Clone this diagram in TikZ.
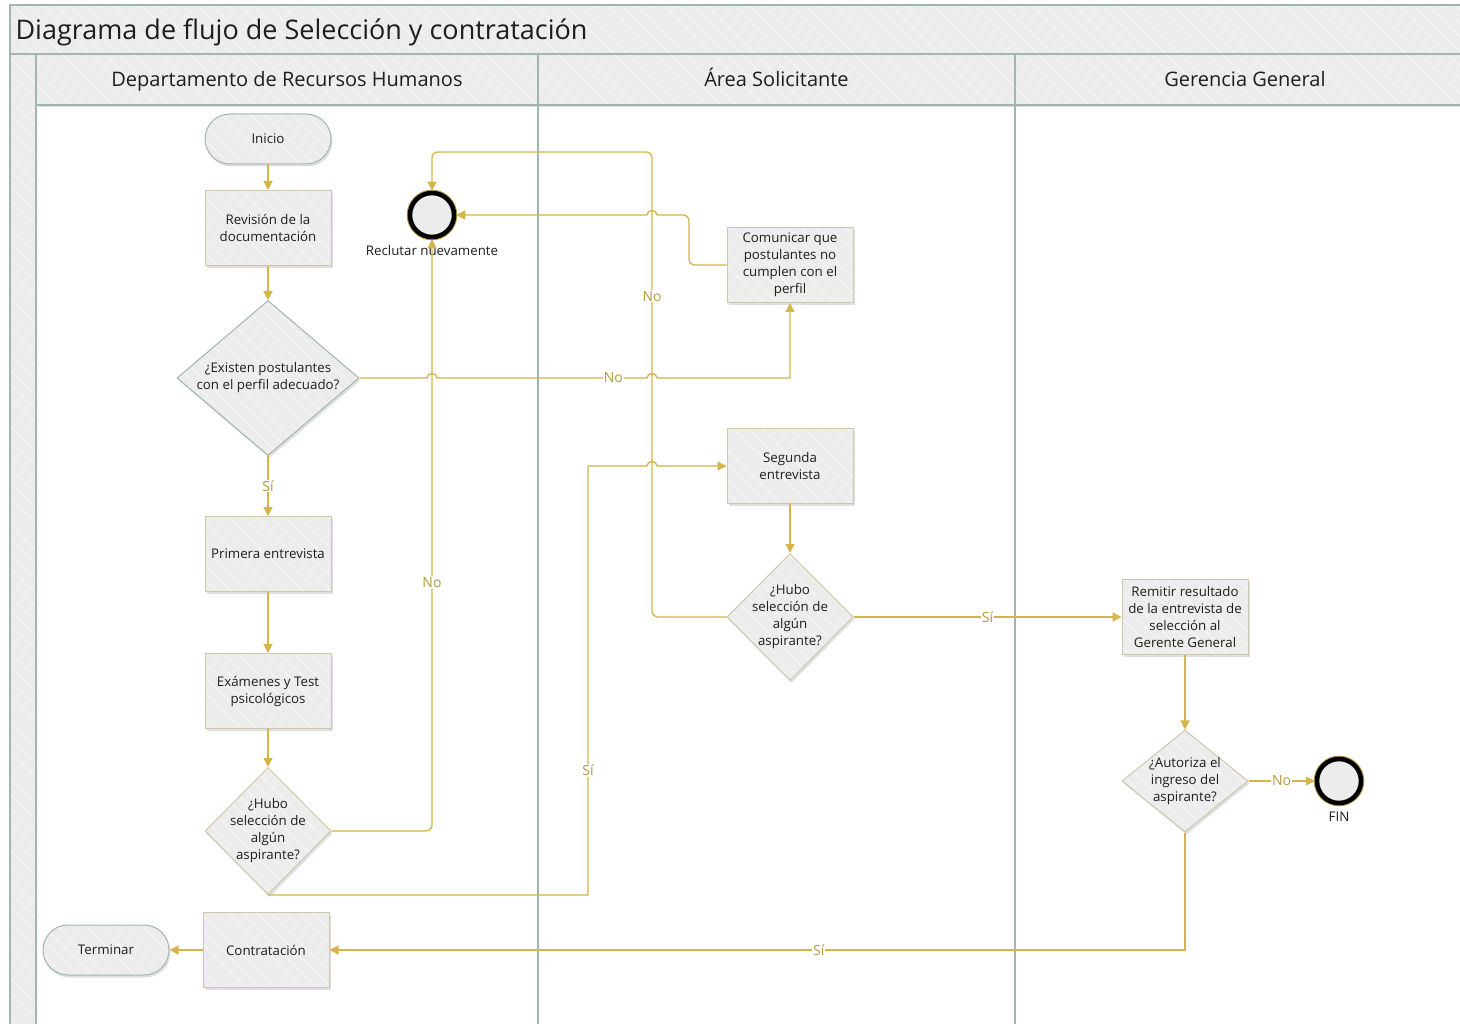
\documentclass[tikz,border=0pt]{standalone}
\usepackage{fontspec}
\setmainfont{Open Sans}
\usetikzlibrary{positioning,shapes.geometric,arrows.meta,shadows,patterns.meta}

\definecolor{lanegray}{HTML}{ECECEC}
\definecolor{laneline}{HTML}{A3B6AE}
\definecolor{boxline}{HTML}{CFC7AC}
\definecolor{flowgold}{HTML}{D4B54A}
\definecolor{labelgold}{HTML}{B39A3E}
\definecolor{ink}{HTML}{1E1E1E}

\begin{document}
\begin{tikzpicture}[x=1pt, y=-1pt,
  >={Triangle[length=9pt,width=9pt]},
  hatch/.style={preaction={fill=lanegray},
    preaction={pattern={Lines[angle=-45,distance=10pt,line width=1pt]},
      pattern color=white!55!lanegray}},
  shade box/.style={drop shadow={shadow xshift=1.5pt, shadow yshift=-2.5pt,
      opacity=0.25, fill=black!50}},
  lanebox/.style={draw=laneline, line width=1.2pt, hatch},
  proc/.style={rectangle, shade box, hatch, draw=boxline, line width=1pt,
    minimum width=126pt, minimum height=75pt, inner sep=2pt, align=center, text=ink,
    font=\fontsize{13.3}{17}\selectfont},
  termbox/.style={proc, draw=laneline, rounded corners=25pt, minimum height=50pt},
  decis/.style={proc, diamond, inner sep=-16pt},
  endc/.style={circle, draw=black, line width=4.5pt, fill=lanegray,
    minimum size=44pt, inner sep=0pt, preaction={draw=flowgold!80!black, line width=6.5pt}},
  endtxt/.style={text=ink, font=\fontsize{13.3}{17}\selectfont},
  flow/.style={draw=flowgold, line width=1.3pt, ->},
  lbl/.style={fill=white, text=labelgold, inner sep=1pt, font=\fontsize{14}{16}\selectfont}]

  \path[use as bounding box, clip] (0,0) rectangle (1460,1024);
  \fill[white] (0,0) rectangle (1460,1024);

  % pool and lanes
  \draw[lanebox] (10,5) rectangle (1475,54);
  \node[anchor=base west, text=ink, font=\fontsize{27}{32}\selectfont] (title) at (12,40)
    {Diagrama de flujo de Selección y contratación};
  \draw[lanebox] (10,54) rectangle (36,1030);
  \foreach \xa/\xb/\txt [count=\i] in {36/538/Departamento de Recursos Humanos,
      538/1015/Área Solicitante, 1015/1475/Gerencia General}
  {
    \draw[draw=laneline, line width=1.5pt] (\xa,105) -- (\xa,1030);
    \draw[shade box, lanebox] (\xa,54) rectangle (\xb,105);
    \node[anchor=base, text=ink, font=\fontsize{20}{24}\selectfont] (lane\i)
      at ({(\xa+\xb)/2},87) {\txt};
  }

  % recursos humanos
  \node[termbox] (inicio) at (268,139) {Inicio};
  \node[proc] (revis) at (268,228) {Revisión de la\\documentación};
  \node[decis, draw=laneline, minimum width=182pt, minimum height=155pt] (exist) at (268,378)
    {¿Existen postulantes\\con el perfil adecuado?};
  \node[proc] (prim) at (268,554) {Primera entrevista};
  \node[proc] (exam) at (268,691) {Exámenes y Test\\psicológicos};
  \node[decis, minimum width=126pt, minimum height=127pt] (hubo1) at (268,831)
    {¿Hubo\\selección de\\algún\\aspirante?};
  \node[proc] (contr) at (266,950) {Contratación};
  \node[termbox] (termin) at (106,950) {Terminar};
  \node[endc] (recl) at (432,215) {};
  \node[endtxt, below=3pt of recl] (reclt) {Reclutar nuevamente};

  % area solicitante
  \node[proc] (comun) at (790,265) {Comunicar que\\postulantes no\\cumplen con el\\perfil};
  \node[proc] (segun) at (790,466) {Segunda\\entrevista};
  \node[decis, minimum width=126pt, minimum height=127pt] (hubo2) at (790,617)
    {¿Hubo\\selección de\\algún\\aspirante?};

  % gerencia general
  \node[proc] (remit) at (1185,617) {Remitir resultado\\de la entrevista de\\selección al\\Gerente General};
  \node[decis, minimum width=126pt, minimum height=102pt] (autor) at (1185,781)
    {¿Autoriza el\\ingreso del\\aspirante?};
  \node[endc] (fin) at (1339,781) {};
  \node[endtxt, below=3pt of fin] (fint) {FIN};

  % flow
  \draw[flow] (inicio) -- (revis);
  \draw[flow] (revis) -- (exist);
  \draw[flow] (exist) -- node[lbl] (si1) {Sí} (prim);
  \draw[flow] (prim) -- (exam);
  \draw[flow] (exam) -- (hubo1);
  \draw[flow] (exist.east) -- (427,378) .. controls (427,372) and (437,372) .. (437,378)
    -- node[lbl, pos=0.84] (no1) {No} (647,378)
    .. controls (647,372) and (657,372) .. (657,378) -| (comun.south);
  \draw[flow, rounded corners=6pt] (comun.west) -- (689,265) -- (689,215) [sharp corners]
    -- (657,215) .. controls (657,209) and (647,209) .. (647,215) -- (recl.east);
  \draw[flow, rounded corners=6pt] (hubo1.east) -| node[lbl, pos=0.71] (no2) {No} (recl.south);
  \draw[flow] (hubo1.south) -- (588,895) -- node[lbl, pos=0.29] (si2) {Sí} (588,466)
    -- (647,466) .. controls (647,460) and (657,460) .. (657,466) -- (segun.west);
  \draw[flow] (segun) -- (hubo2);
  \draw[flow, rounded corners=6pt] (hubo2.west) -- (652,617)
    -- node[lbl, pos=0.69] (no3) {No} (652,152) -- (432,152) -- (recl.north);
  \draw[flow] (hubo2.east) -- node[lbl] (si3) {Sí} (remit.west);
  \draw[flow] (remit) -- (autor);
  \draw[flow] (autor.east) -- node[lbl] (no4) {No} (fin.west);
  \draw[flow] (autor.south) |- node[lbl, pos=0.714] (si4) {Sí} (contr.east);
  \draw[flow] (contr) -- (termin);
\end{tikzpicture}
\end{document}
